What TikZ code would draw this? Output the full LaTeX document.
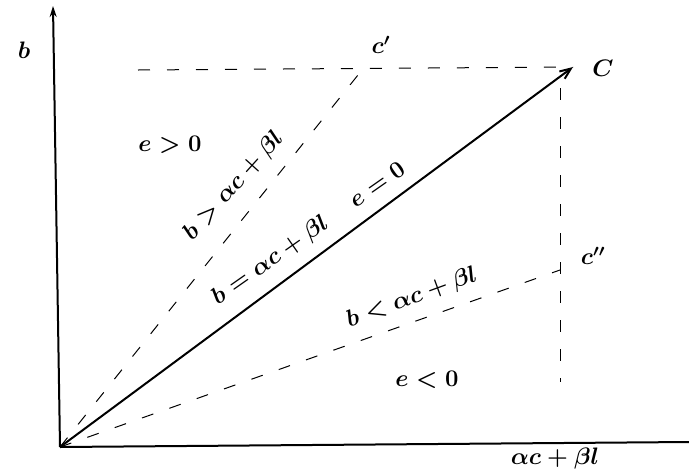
\documentclass[tikz,border=0pt]{standalone}
\usepackage{graphicx}
\usepackage{tikz}
\usetikzlibrary{arrows.meta,positioning}

\newcommand{\hand}[1]{\scalebox{1.15}{$#1$}}

\begin{document}
\begin{tikzpicture}[x=1pt,y=-1pt,
    axis/.style={line width=2pt},
    vec/.style={-{Straight Barb[length=11pt,width=9pt]}, line width=2pt},
    guide/.style={dash pattern=on 12pt off 17pt, line width=1pt},
    lbl/.style={font=\huge\boldmath, inner sep=1pt},
  ]
    \useasboundingbox (0,0) rectangle (689,472);

    % points of the plane
    \coordinate (O)      at (60,447);
    \coordinate (ytop)   at (53,6);
    \coordinate (xend)   at (689,442);
    \coordinate (C)      at (573,67);
    \coordinate (Cp)     at (362,70);
    \coordinate (Cpp)    at (560,270);
    \coordinate (hstart) at (138,70);
    \coordinate (vtop)   at (560,88);
    \coordinate (vbot)   at (560,382);

    \draw[axis, -{Stealth[length=11pt,width=7pt]}] (O) -- (ytop);
    \draw[axis] (O) -- (xend);

    \draw[guide] (hstart) -- (C);
    \draw[guide] (vtop) -- (vbot);
    \draw[guide] (O) -- (Cp);
    \draw[guide] (O) -- (Cpp);
    \draw[vec] (O) -- (C);

    \node[lbl] (blbl)   at (24,50)   {\hand{b}};
    \node[lbl] (xlbl)   at (555,459) {\hand{\alpha c+\beta l}};
    \node[lbl] (Clbl)   at (603,68)  {\hand{C}};
    \node[lbl] (Cplbl)  at (381,45)  {\hand{c'}};
    \node[lbl] (Cpplbl) at (593,256) {\hand{c''}};

    \node[lbl] (pos)  at (170,145) {\hand{e>0}};
    \node[lbl, rotate=48] (above) at (234,186) {\hand{b>\alpha c+\beta l}};
    \node[lbl, rotate=35] (on)    at (309,234) {\hand{b=\alpha c+\beta l\quad\ e=0}};
    \node[lbl, rotate=20] (below) at (412,298) {\hand{b<\alpha c+\beta l}};
    \node[lbl] (neg)  at (427,380) {\hand{e<0}};
\end{tikzpicture}
\end{document}
